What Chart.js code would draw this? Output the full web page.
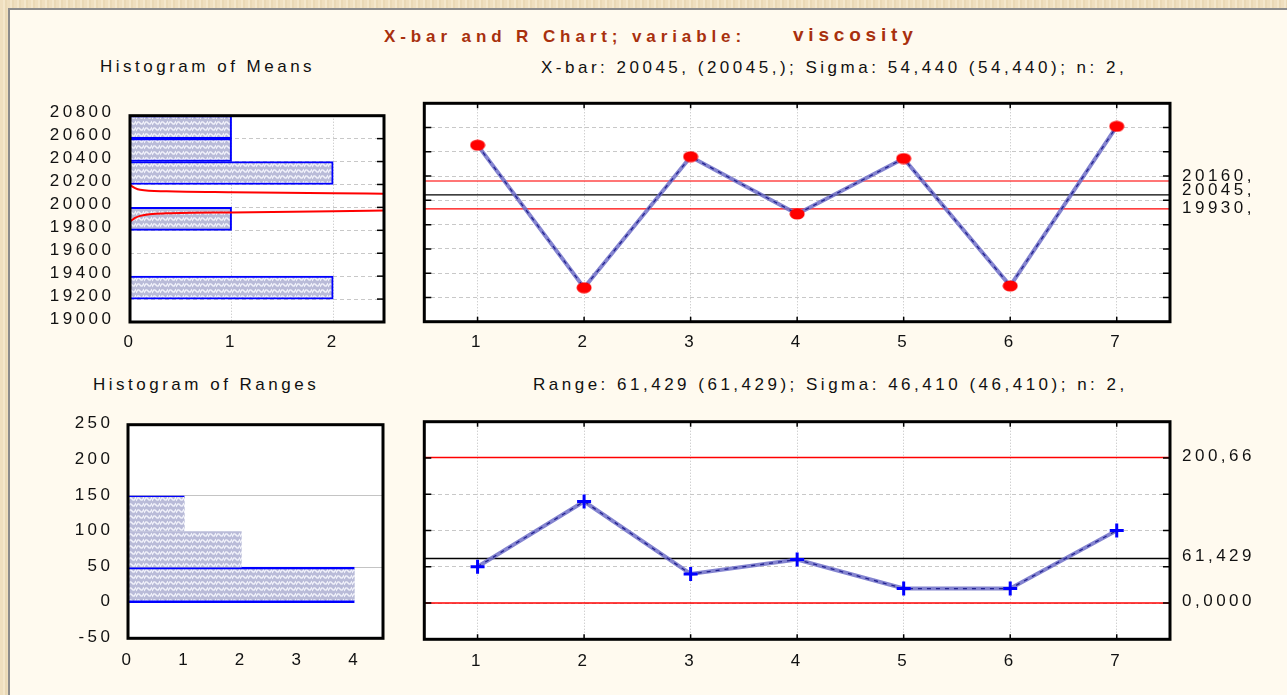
<!DOCTYPE html>
<html><head><meta charset="utf-8">
<script src="https://cdn.jsdelivr.net/npm/chart.js@4.4.1/dist/chart.umd.min.js"></script>
<style>
html,body{margin:0;padding:0;}
body{width:1287px;height:695px;overflow:hidden;position:relative;font-family:"Liberation Sans",Arial,sans-serif;
background:repeating-linear-gradient(90deg,#efdfbf 0 3px,#f4e7cb 3px 5px,#ead9b6 5px 7px);}
#panel{position:absolute;left:8px;top:8px;width:1279px;height:687px;background:#fffaef;border-left:2px solid #8c8c8c;border-top:2px solid #8c8c8c;box-sizing:border-box;}
canvas{position:absolute;}
.t{position:absolute;white-space:nowrap;font-size:17px;letter-spacing:3.5px;color:#111;line-height:20px;z-index:5;}
.title{color:#a8300e;font-weight:bold;letter-spacing:4.9px;}
</style></head>
<body>
<div id="panel"></div>
<div class="t title" style="left:384px;top:27px;">X-bar and R Chart; variable:</div>
<div class="t title" style="left:793px;top:25px;font-size:19px;letter-spacing:4.8px;">viscosity</div>
<div class="t" style="left:100px;top:57px;">Histogram of Means</div>
<div class="t" style="left:541px;top:58px;">X-bar: 20045, (20045,); Sigma: 54,440 (54,440); n: 2,</div>
<div class="t" style="left:93px;top:375px;">Histogram of Ranges</div>
<div class="t" style="left:533px;top:375px;">Range: 61,429 (61,429); Sigma: 46,410 (46,410); n: 2,</div>
<div class="t" style="left:1182px;top:166px;">20160,</div>
<div class="t" style="left:1182px;top:180px;">20045,</div>
<div class="t" style="left:1182px;top:198px;">19930,</div>
<div class="t" style="left:1182px;top:446px;">200,66</div>
<div class="t" style="left:1182px;top:546px;">61,429</div>
<div class="t" style="left:1182px;top:591px;">0,0000</div>

<canvas id="c1" width="400" height="270" style="left:0;top:90px;"></canvas>
<canvas id="c2" width="800" height="270" style="left:400px;top:90px;"></canvas>
<canvas id="c3" width="400" height="280" style="left:0;top:400px;"></canvas>
<canvas id="c4" width="800" height="280" style="left:400px;top:400px;"></canvas>

<script>
// ---------- DATA ----------
const samples = [1, 2, 3, 4, 5, 6, 7];
const xbarValues = [20455, 19280, 20360, 19888, 20345, 19295, 20610];
const xbarUCL = 20160;
const xbarCL = 20045;
const xbarLCL = 19930;
const rangeValues = [50, 140, 40, 60, 20, 20, 100];
const rUCL = 200.66;
const rCL = 61.429;
const rLCL = 0;

const meansBinCenters = [20700, 20500, 20300, 19900, 19300];
const meansBinCounts = [1, 1, 2, 1, 2];
const meansCurveUpperX = [0, 0.05, 0.1, 0.36, 1.0, 2.0, 2.5];
const meansCurveUpperY = [20196, 20168, 20153, 20140, 20132, 20124, 20118];
const meansCurveLowerX = [0, 0.05, 0.1, 0.36, 1.0, 2.0, 2.5];
const meansCurveLowerY = [19876, 19908, 19926, 19948, 19956, 19967, 19972];

const rangeBinCenters = [25, 75, 125];
const rangeBinCounts = [4, 2, 1];

const meansYTicks = [19000, 19200, 19400, 19600, 19800, 20000, 20200, 20400, 20600, 20800];
const rangeYTicks = [-50, 0, 50, 100, 150, 200, 250];
const meansCountTicks = [0, 1, 2];
const rangeCountTicks = [0, 1, 2, 3, 4];

// ---------- STYLE HELPERS ----------
Chart.defaults.font.family = '"Liberation Sans", Arial, sans-serif';
Chart.defaults.font.size = 17;
Chart.defaults.color = '#111';
Chart.defaults.animation = false;

const framePlugin = {
  id: 'frame',
  beforeDraw(chart, args, opts) {
    const {ctx, chartArea: a} = chart;
    ctx.save();
    ctx.fillStyle = '#ffffff';
    ctx.fillRect(a.left, a.top, a.right - a.left, a.bottom - a.top);
    ctx.restore();
    ctx.letterSpacing = '3.5px';
  },
  afterDraw(chart, args, opts) {
    const {ctx, chartArea: a, scales} = chart;
    ctx.save();
    ctx.letterSpacing = '0px';
    ctx.strokeStyle = '#000';
    ctx.lineWidth = 1.5;
    if (opts.yTicks) {
      scales.y.ticks.forEach(t => {
        const p = scales.y.getPixelForValue(t.value);
        ctx.beginPath();
        if (opts.yTicks.includes('l')) { ctx.moveTo(a.left, p); ctx.lineTo(a.left + 7, p); }
        if (opts.yTicks.includes('r')) { ctx.moveTo(a.right, p); ctx.lineTo(a.right - 7, p); }
        ctx.stroke();
      });
    }
    if (opts.xTicks) {
      scales.x.ticks.forEach(t => {
        const p = scales.x.getPixelForValue(t.value);
        ctx.beginPath();
        ctx.moveTo(p, a.top); ctx.lineTo(p, a.top + 5);
        ctx.moveTo(p, a.bottom); ctx.lineTo(p, a.bottom - 5);
        ctx.stroke();
      });
    }
    ctx.lineWidth = 3;
    ctx.strokeRect(a.left, a.top, a.right - a.left, a.bottom - a.top);
    ctx.restore();
  }
};

function makePattern(ctx) {
  const c = document.createElement('canvas');
  c.width = 8; c.height = 6;
  const g = c.getContext('2d');
  g.fillStyle = '#b9bbd8'; g.fillRect(0, 0, 8, 6);
  g.strokeStyle = '#f1f2fa'; g.lineWidth = 1.4;
  g.beginPath(); g.moveTo(0, 5); g.quadraticCurveTo(2, 0, 4, 3); g.quadraticCurveTo(6, 6, 8, 1); g.stroke();
  return ctx.createPattern(c, 'repeat');
}
function makeDot() {
  const c = document.createElement('canvas');
  c.width = 16; c.height = 12;
  const g = c.getContext('2d');
  g.fillStyle = '#ff0000';
  g.beginPath(); g.ellipse(8, 6, 7.5, 5.6, 0, 0, Math.PI * 2); g.fill();
  return c;
}
const fixW = w => (s) => { s.width = w; };
const fixH = h => (s) => { s.height = h; };
const setTicks = arr => (s) => { s.ticks = arr.map(v => ({value: v})); };
const hLine = (y, color, xMin, xMax) => ({
  type: 'line', data: [{x: xMin, y: y}, {x: xMax, y: y}], borderColor: color, borderWidth: 1.4,
  pointRadius: 0, fill: false
});

// ---------- CHART 1: Histogram of Means ----------
const ctx1 = document.getElementById('c1').getContext('2d');
new Chart(ctx1, {
  type: 'bar',
  data: {
    datasets: [
      {
        type: 'line', indexAxis: 'x',
        data: meansCurveUpperX.map((x, i) => ({x: x, y: meansCurveUpperY[i]})),
        borderColor: '#ff0000', borderWidth: 2, pointRadius: 0, cubicInterpolationMode: 'monotone'
      },
      {
        type: 'line', indexAxis: 'x',
        data: meansCurveLowerX.map((x, i) => ({x: x, y: meansCurveLowerY[i]})),
        borderColor: '#ff0000', borderWidth: 2, pointRadius: 0, cubicInterpolationMode: 'monotone'
      },
      {
        data: meansBinCenters.map((c, i) => ({x: meansBinCounts[i], y: c})),
        backgroundColor: makePattern(ctx1), borderColor: '#0000ff', borderWidth: 2,
        borderSkipped: 'start', barPercentage: 1, categoryPercentage: 1
      }
    ]
  },
  options: {
    responsive: false, indexAxis: 'y',
    layout: {padding: {left: 0, top: 13, right: 16, bottom: 0}},
    plugins: {legend: {display: false}, tooltip: {enabled: false}, frame: {yTicks: 'r'}},
    scales: {
      x: {
        type: 'linear', min: 0, max: 2.5, offset: false, afterFit: fixH(38), afterBuildTicks: setTicks(meansCountTicks),
        grid: {color: '#bdbdbd', drawTicks: false, lineWidth: 1}, border: {display: false, dash: [1, 2]},
        ticks: {padding: 10, autoSkip: false, maxRotation: 0, callback: v => String(v)}
      },
      y: {
        type: 'linear', min: 19000, max: 20800, offset: false, afterFit: fixW(130), afterBuildTicks: setTicks(meansYTicks),
        grid: {color: '#c8c8c8', drawTicks: false, offset: false}, border: {display: false, dash: [4, 3]},
        ticks: {padding: 15.5, labelOffset: -3, autoSkip: false, callback: v => String(v)}
      }
    }
  },
  plugins: [framePlugin]
});

// ---------- CHART 2: X-bar ----------
const ctx2 = document.getElementById('c2').getContext('2d');
const dot = makeDot();
new Chart(ctx2, {
  type: 'line',
  data: {
    datasets: [
      {data: samples.map((s, i) => ({x: s, y: xbarValues[i]})), showLine: false, pointStyle: dot, pointRadius: 7},
      {data: samples.map((s, i) => ({x: s, y: xbarValues[i]})), borderColor: '#232390', borderWidth: 1.3, borderDash: [4, 5], pointRadius: 0},
      {data: samples.map((s, i) => ({x: s, y: xbarValues[i]})), borderColor: 'rgba(110,110,200,0.85)', borderWidth: 4, pointRadius: 0},
      hLine(xbarCL, '#000000', 0.5, 7.5),
      hLine(xbarUCL, '#ff4848', 0.5, 7.5),
      hLine(xbarLCL, '#ff0000', 0.5, 7.5)
    ]
  },
  options: {
    responsive: false,
    layout: {padding: {left: 0, top: 13.3, right: 30, bottom: 0}},
    plugins: {legend: {display: false}, tooltip: {enabled: false}, frame: {yTicks: 'lr', xTicks: true}},
    scales: {
      x: {
        type: 'linear', min: 0.5, max: 7.5, afterFit: fixH(38.3), afterBuildTicks: setTicks(samples),
        grid: {color: '#bdbdbd', drawTicks: false}, border: {display: false, dash: [1, 2]},
        ticks: {padding: 10.5, autoSkip: false, maxRotation: 0, callback: v => String(v)}
      },
      y: {
        type: 'linear', min: 19000, max: 20800, afterFit: fixW(24.3), afterBuildTicks: setTicks(meansYTicks),
        grid: {color: '#c8c8c8', drawTicks: false}, border: {display: false, dash: [4, 3]},
        ticks: {display: false}
      }
    }
  },
  plugins: [framePlugin]
});

// ---------- CHART 3: Histogram of Ranges ----------
const ctx3 = document.getElementById('c3').getContext('2d');
new Chart(ctx3, {
  type: 'bar',
  data: {
    datasets: [{
      data: rangeBinCenters.map((c, i) => ({x: rangeBinCounts[i], y: c})),
      backgroundColor: makePattern(ctx3), borderColor: '#0000ff',
      borderWidth: (c) => c.dataIndex === 0 ? {top: 2.5, bottom: 2.5, left: 0, right: 0}
                        : (c.dataIndex === 2 ? {top: 1.5, bottom: 0, left: 0, right: 0} : 0),
      borderSkipped: false, barPercentage: 1, categoryPercentage: 1
    }]
  },
  options: {
    responsive: false, indexAxis: 'y',
    layout: {padding: {left: 0, top: 21, right: 17, bottom: 0}},
    plugins: {legend: {display: false}, tooltip: {enabled: false}, frame: {}},
    scales: {
      x: {
        type: 'linear', min: 0, max: 4.5, offset: false, afterFit: fixH(41.7), afterBuildTicks: setTicks(rangeCountTicks),
        grid: {display: false, drawTicks: false}, border: {display: false},
        ticks: {padding: 12, autoSkip: false, maxRotation: 0, callback: v => String(v)}
      },
      y: {
        type: 'linear', min: -50, max: 250, offset: false, afterFit: fixW(128), afterBuildTicks: setTicks(rangeYTicks),
        grid: {drawTicks: false, offset: false, color: (c) => (c.tick && (c.tick.value === 50 || c.tick.value === 150)) ? '#c4c4c4' : 'rgba(0,0,0,0)'},
        border: {display: false},
        ticks: {padding: 14.5, labelOffset: -1, autoSkip: false, callback: v => String(v)}
      }
    }
  },
  plugins: [framePlugin]
});

// ---------- CHART 4: Range chart ----------
const ctx4 = document.getElementById('c4').getContext('2d');
new Chart(ctx4, {
  type: 'line',
  data: {
    datasets: [
      {data: samples.map((s, i) => ({x: s, y: rangeValues[i]})), showLine: false, pointStyle: 'cross',
       pointRadius: 7, pointBorderWidth: 3, pointBorderColor: '#0000ff', pointBackgroundColor: '#0000ff'},
      {data: samples.map((s, i) => ({x: s, y: rangeValues[i]})), borderColor: '#232390', borderWidth: 1.3, borderDash: [4, 5], pointRadius: 0},
      {data: samples.map((s, i) => ({x: s, y: rangeValues[i]})), borderColor: 'rgba(110,110,200,0.85)', borderWidth: 4, pointRadius: 0},
      hLine(rCL, '#000000', 0.5, 7.5),
      hLine(rUCL, '#ff0000', 0.5, 7.5),
      hLine(rLCL, '#ff0000', 0.5, 7.5)
    ]
  },
  options: {
    responsive: false,
    layout: {padding: {left: 0, top: 21.7, right: 30, bottom: 0}},
    plugins: {legend: {display: false}, tooltip: {enabled: false}, frame: {yTicks: 'lr', xTicks: true}},
    scales: {
      x: {
        type: 'linear', min: 0.5, max: 7.5, afterFit: fixH(40.7), afterBuildTicks: setTicks(samples),
        grid: {color: '#bdbdbd', drawTicks: false}, border: {display: false, dash: [1, 2]},
        ticks: {padding: 12, autoSkip: false, maxRotation: 0, callback: v => String(v)}
      },
      y: {
        type: 'linear', min: -50, max: 250, afterFit: fixW(24.3), afterBuildTicks: setTicks(rangeYTicks),
        grid: {color: '#c8c8c8', drawTicks: false}, border: {display: false, dash: [4, 3]},
        ticks: {display: false}
      }
    }
  },
  plugins: [framePlugin]
});
</script>
</body></html>
